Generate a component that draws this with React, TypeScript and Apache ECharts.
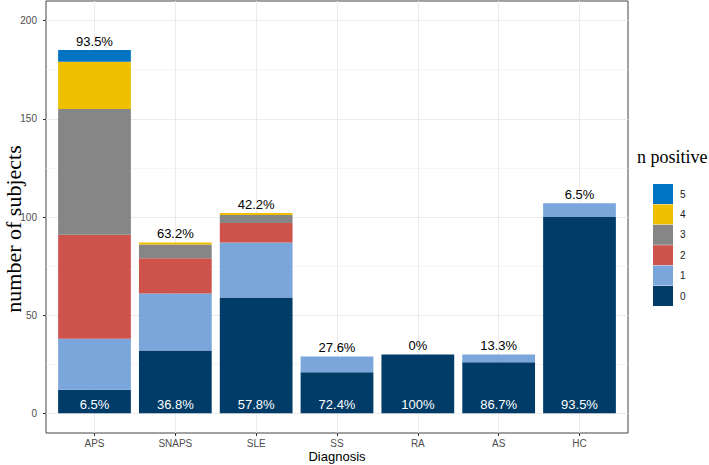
import React, { useEffect, useRef } from 'react';
import * as echarts from 'echarts';

const categories = ['APS', 'SNAPS', 'SLE', 'SS', 'RA', 'AS', 'HC'];
const n0 = [12, 32, 59, 21, 30, 26, 100];
const n1 = [26, 29, 28, 8, 0, 4, 7];
const n2 = [53, 18, 10, 0, 0, 0, 0];
const n3 = [64, 7, 4, 0, 0, 0, 0];
const n4 = [24, 1, 1, 0, 0, 0, 0];
const n5 = [6, 0, 0, 0, 0, 0, 0];
const positiveLabels = ['93.5%', '63.2%', '42.2%', '27.6%', '0%', '13.3%', '6.5%'];
const negativeLabels = ['6.5%', '36.8%', '57.8%', '72.4%', '100%', '86.7%', '93.5%'];
const yTicks = [0, 50, 100, 150, 200];
const yMinor = [25, 75, 125, 175];
const legendOrder = ['5', '4', '3', '2', '1', '0'];

const stacks = [n0, n1, n2, n3, n4, n5];
const colors = ['#003C67', '#7AA6DC', '#CD534C', '#868686', '#EFC000', '#0073C2'];
const SANS = '"Liberation Sans", Arial, sans-serif';
const SERIF = '"Liberation Serif", "Times New Roman", serif';

// panel geometry (ggplot discrete expansion 0.6 on each side)
const PANEL_LEFT = 46;
const PANEL_WIDTH = 582;
const PANEL_TOP = 1;
const PANEL_HEIGHT = 432;
const X_MIN = -0.6;
const X_MAX = 6.6;
const Y_MIN = -10;
const Y_MAX = 210;

export default function App() {
  const ref = useRef<HTMLDivElement>(null);
  useEffect(() => {
    if (!ref.current) return;
    const chart = echarts.init(ref.current, undefined, { renderer: 'svg' });
    const totals = categories.map((_, i) => stacks.reduce((s, a) => s + a[i], 0));
    const catIdx = categories.map((_, i) => i);
    const unit = PANEL_WIDTH / (X_MAX - X_MIN);
    const innerLeft = PANEL_LEFT + (-0.5 - X_MIN) * unit;
    const innerWidth = categories.length * unit;

    const barSeries: any[] = stacks.map((arr, k) => ({
      name: String(k),
      type: 'bar',
      stack: 'total',
      barWidth: '90%',
      xAxisIndex: 1,
      yAxisIndex: 1,
      z: 2,
      itemStyle: { color: colors[k] },
      data: arr,
      label: k === 0
        ? {
            show: true,
            position: 'insideBottom',
            distance: 2,
            color: '#ffffff',
            fontSize: 13,
            fontFamily: SANS,
            formatter: (p: any) => negativeLabels[p.dataIndex],
          }
        : { show: false },
    }));

    const option: any = {
      animation: false,
      backgroundColor: '#ffffff',
      grid: [
        {
          left: PANEL_LEFT,
          top: PANEL_TOP,
          width: PANEL_WIDTH,
          height: PANEL_HEIGHT,
          show: true,
          borderColor: '#444444',
          borderWidth: 1,
          backgroundColor: 'transparent',
        },
        {
          left: innerLeft,
          top: PANEL_TOP,
          width: innerWidth,
          height: PANEL_HEIGHT,
          show: false,
        },
      ],
      xAxis: [
        {
          gridIndex: 0,
          type: 'value',
          min: X_MIN,
          max: X_MAX,
          axisLine: { show: false, onZero: false },
          axisTick: {
            show: true,
            length: 3,
            lineStyle: { color: '#333333' },
            customValues: catIdx,
          },
          axisLabel: {
            customValues: catIdx,
            formatter: (v: number) => categories[Math.round(v)] ?? '',
            color: '#4d4d4d',
            fontSize: 10,
            fontFamily: SANS,
            margin: 5,
          },
          splitLine: { show: true, lineStyle: { color: '#ebebeb', width: 1 } },
        },
        {
          gridIndex: 1,
          type: 'category',
          data: categories,
          show: false,
        },
      ],
      yAxis: [
        {
          gridIndex: 0,
          type: 'value',
          min: Y_MIN,
          max: Y_MAX,
          axisLine: { show: false, onZero: false },
          axisTick: {
            show: true,
            length: 3,
            lineStyle: { color: '#333333' },
            customValues: yTicks,
          },
          axisLabel: {
            customValues: yTicks,
            color: '#4d4d4d',
            fontSize: 10,
            fontFamily: SANS,
            margin: 9,
          },
          splitLine: { show: true, lineStyle: { color: '#ebebeb', width: 1 } },
        },
        {
          gridIndex: 1,
          type: 'value',
          min: Y_MIN,
          max: Y_MAX,
          show: false,
          splitLine: { show: false },
        },
      ],
      legend: {
        data: legendOrder,
        orient: 'vertical',
        left: 648,
        top: 179,
        icon: 'rect',
        itemWidth: 20,
        itemHeight: 20,
        itemGap: 0.4,
        selectedMode: false,
        textStyle: { fontSize: 10, color: '#1a1a1a', fontFamily: SANS, padding: [0, 0, 0, 2] },
      },
      graphic: [
        {
          type: 'text',
          x: 13,
          y: 229,
          rotation: Math.PI / 2,
          style: {
            text: 'number of subjects',
            fontSize: 22,
            fontFamily: SERIF,
            fill: '#000000',
            textAlign: 'center',
            textVerticalAlign: 'middle',
          },
        },
        {
          type: 'text',
          x: 337,
          y: 456,
          style: {
            text: 'Diagnosis',
            fontSize: 13,
            fontFamily: SANS,
            fill: '#000000',
            textAlign: 'center',
            textVerticalAlign: 'middle',
          },
        },
        {
          type: 'text',
          x: 637,
          y: 157,
          style: {
            text: 'n positive',
            fontSize: 18,
            fontFamily: SERIF,
            fill: '#000000',
            textAlign: 'left',
            textVerticalAlign: 'middle',
          },
        },
      ],
      series: [
        {
          name: 'minor',
          type: 'line',
          xAxisIndex: 0,
          yAxisIndex: 0,
          data: [],
          z: 1,
          markLine: {
            silent: true,
            z: 1,
            symbol: 'none',
            label: { show: false },
            lineStyle: { color: '#f0f0f0', width: 0.7, type: 'solid' },
            data: yMinor.map((v) => ({ yAxis: v })),
          },
        },
        ...barSeries,
        {
          name: 'positive',
          type: 'scatter',
          xAxisIndex: 1,
          yAxisIndex: 1,
          symbolSize: 0.1,
          itemStyle: { color: 'rgba(0,0,0,0)', opacity: 1 },
          z: 3,
          data: totals,
          label: {
            show: true,
            position: 'top',
            distance: 2,
            color: '#000000',
            opacity: 1,
            textBorderWidth: 0,
            fontSize: 13,
            fontFamily: SANS,
            formatter: (p: any) => positiveLabels[p.dataIndex],
          },
        },
      ],
    };
    chart.setOption(option);
    return () => chart.dispose();
  }, []);
  return (
    <div
      ref={ref}
      style={{ position: 'fixed', left: 0, top: 0, width: 709, height: 465 }}
    />
  );
}
